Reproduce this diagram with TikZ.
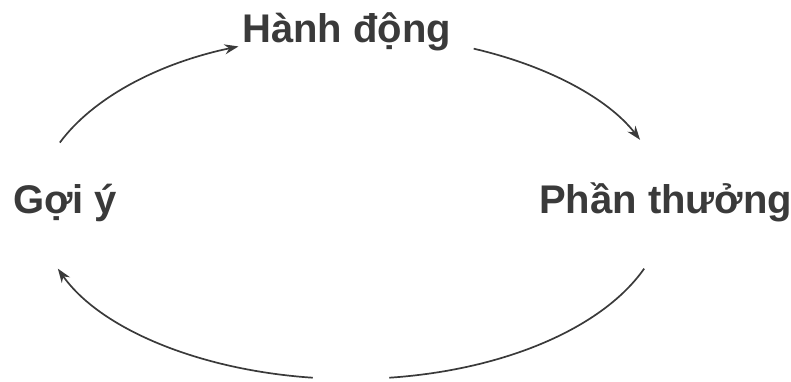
\documentclass[tikz,border=0pt]{standalone}
\usepackage{fontspec}
\setmainfont{Liberation Sans}
\usetikzlibrary{arrows.meta,calc}
\definecolor{ink}{HTML}{3A3A3A}
\begin{document}
\begin{tikzpicture}[x=1pt,y=1pt,
  lbl/.style={inner sep=0pt, anchor=base west, text=ink, font=\fontsize{40}{45}\selectfont\bfseries},
  conn/.style={draw=ink, line width=1.7pt},
  tip/.style={-{Stealth[length=14pt,width=10pt]}}]
\useasboundingbox (0,0) rectangle (791,381);
% labels
\node[lbl] (act) at (242,338) {Hành động};
\node[lbl] (cue) at (13,168) {Gợi ý};
\node[lbl] (rew) at (539,168) {Phần thưởng};
% arc start points on an ellipse, centre (351,174), radii 314 x 172
\coordinate (ctr) at (351,174);
\coordinate (s1) at ($(ctr)+({314*cos(158)},{172*sin(158)})$);
\coordinate (s2) at ($(ctr)+({314*cos(67)},{172*sin(67)})$);
\coordinate (s3) at ($(ctr)+({314*cos(-21)},{172*sin(-21)})$);
\coordinate (s4) at ($(ctr)+({314*cos(-97)},{172*sin(-97)})$);
% connectors
\draw[conn,tip] (s1) arc[start angle=158, end angle=111, x radius=314, y radius=172];
\draw[conn,tip] (s2) arc[start angle=67, end angle=23, x radius=314, y radius=172];
\draw[conn] (s3) arc[start angle=-21, end angle=-83, x radius=314, y radius=172];
\draw[conn,tip] (s4) arc[start angle=-97, end angle=-159, x radius=314, y radius=172];
\end{tikzpicture}
\end{document}
